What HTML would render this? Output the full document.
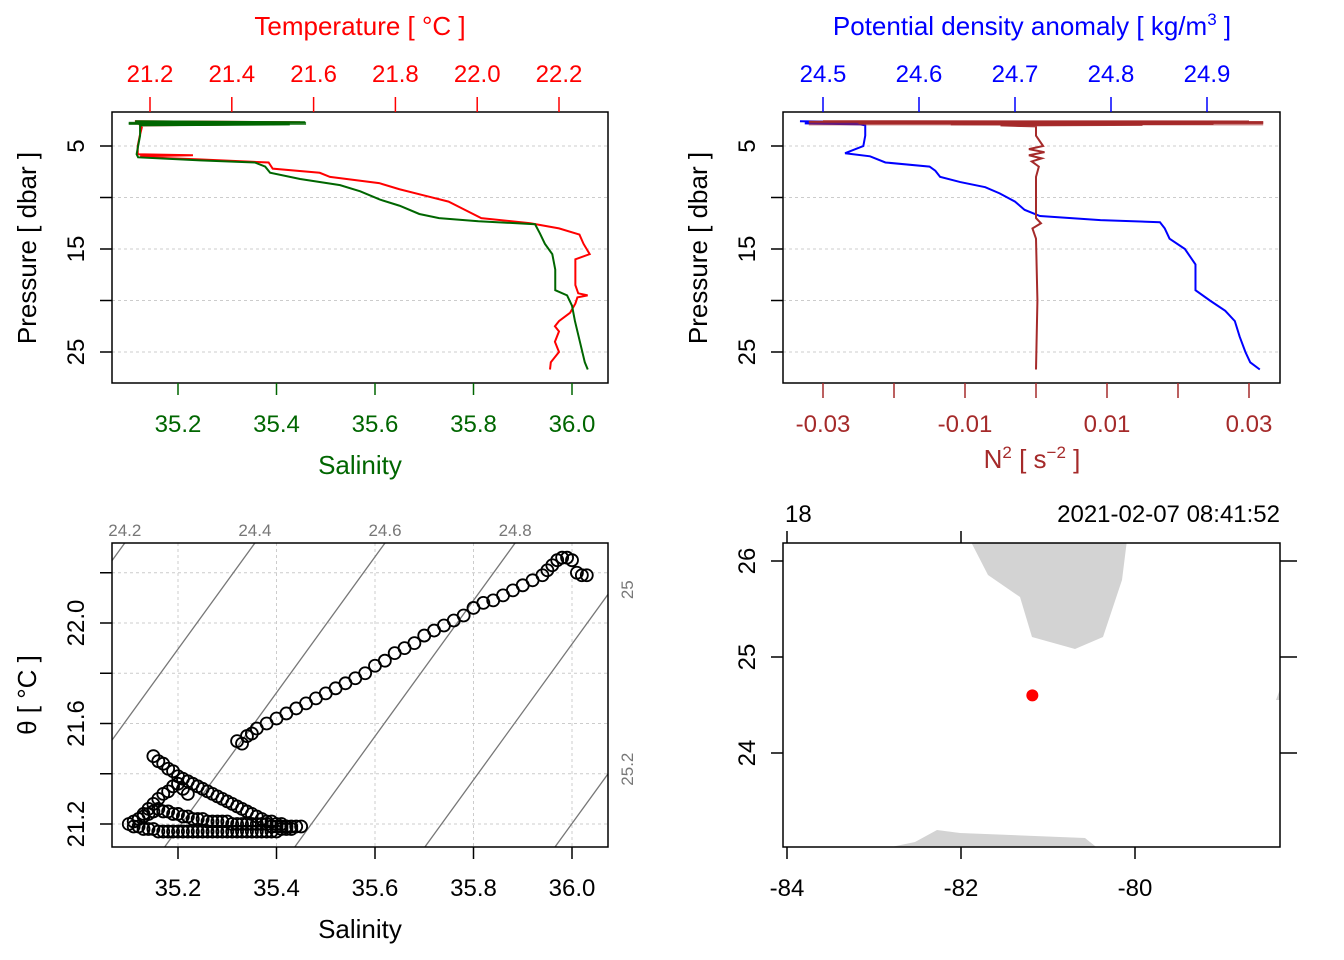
<!DOCTYPE html>
<html><head><meta charset="utf-8"><style>
html,body{margin:0;padding:0;background:#fff;}
svg{display:block;font-family:"Liberation Sans",Arial,sans-serif;}
</style></head><body>
<svg id="c" width="1344" height="960" xmlns="http://www.w3.org/2000/svg"></svg>
<script>
// ---- data ----
const pT=[2.6,2.7,2.8,2.9,3.0,3.2,4,5,5.8,5.9,6.0,6.1,6.3,6.6,7.2,7.6,8.0,8.6,9.2,9.8,10.4,11.2,12.0,12.5,13.0,13.6,14.5,15.5,16.0,17,18.5,19.3,19.5,19.7,20.3,21.2,22.0,22.5,23.0,24.0,25.0,26.0,26.7];
const temperature=[21.163,21.567,21.15,21.44,21.176,21.18,21.175,21.17,21.17,21.305,21.176,21.19,21.32,21.49,21.5,21.615,21.64,21.76,21.81,21.87,21.93,21.97,22.01,22.13,22.2,22.25,22.26,22.275,22.24,22.24,22.24,22.247,22.27,22.245,22.24,22.227,22.2,22.19,22.2,22.19,22.2,22.18,22.178];
const pS=[2.6,2.7,2.8,2.9,3.0,3.2,4,5,5.8,6.1,6.4,6.6,7.0,7.6,8.2,8.8,9.4,10.2,10.8,11.6,12.0,12.3,12.6,13.5,14.5,15.5,17,19,19.5,20.5,22,24,26,26.7];
const salinity=[35.113,35.458,35.1,35.427,35.123,35.123,35.123,35.119,35.116,35.119,35.245,35.356,35.377,35.387,35.448,35.529,35.57,35.61,35.65,35.69,35.73,35.81,35.925,35.935,35.945,35.96,35.966,35.966,35.99,36.0,36.006,36.016,36.026,36.032];
const pSig=[2.6,2.7,2.8,2.9,3.0,4,5,5.7,6.0,6.6,7.0,7.4,8.0,8.5,9.0,9.6,10.4,11.2,11.8,12.2,12.4,13.0,14.0,15.0,16.5,19.0,20.0,21,22,23.5,25,26,26.7];
const sigma=[24.476,24.549,24.481,24.539,24.544,24.544,24.542,24.523,24.549,24.565,24.611,24.617,24.622,24.643,24.669,24.684,24.7,24.71,24.726,24.789,24.851,24.856,24.861,24.877,24.888,24.888,24.903,24.919,24.929,24.934,24.94,24.945,24.955];
const pN2=[2.6,2.62,2.65,2.68,2.7,2.73,2.75,2.78,2.8,2.83,2.85,2.88,2.9,2.95,3.0,3.1,4,5,5.3,5.6,5.9,6.2,6.5,7,8,12,12.5,13,14,20,26.7];
const n2=[-0.03,0.03,-0.032,0.032,-0.02,0.031,0.032,-0.025,-0.024,0.02,0.025,-0.01,-0.012,0.015,-0.005,0,0,0.001,-0.001,0.0012,-0.001,0.0008,-0.0006,0.0004,0,0,0.0007,-0.0005,0,0.0002,0];
const tsS=[35.1,35.11,35.12,35.13,35.14,35.15,35.16,35.17,35.18,35.19,35.2,35.21,35.22,35.23,35.24,35.25,35.26,35.27,35.28,35.29,35.3,35.31,35.32,35.33,35.34,35.35,35.36,35.37,35.38,35.39,35.4,35.41,35.42,35.43,35.44,35.45,
35.11,35.12,35.13,35.14,35.15,35.16,35.17,35.18,35.19,35.2,35.21,35.22,35.23,35.24,35.25,35.26,35.27,35.28,35.29,35.3,35.31,35.32,35.33,35.34,35.35,35.36,35.37,35.38,35.39,35.4,35.41,35.42,35.43,
35.15,35.16,35.17,35.18,35.19,35.2,35.21,35.22,35.23,35.24,35.25,35.26,35.27,35.28,35.29,35.3,35.31,35.32,35.33,35.34,35.35,35.36,35.37,35.38,35.39,35.4,35.41,35.42,
35.12,35.13,35.14,35.15,35.16,35.17,35.18,35.19,35.2,35.21,35.22,
35.32,35.33,35.34,35.35,35.36,35.38,35.4,35.42,35.44,35.46,35.48,35.5,35.52,35.54,35.56,35.58,35.6,35.62,35.64,35.66,35.68,35.7,35.72,35.74,35.76,35.78,35.8,35.82,35.84,35.86,35.88,35.9,35.92,35.94,35.95,35.96,35.97,35.98,35.99,36.0,36.01,36.02,36.03];
const tsT=[21.2,21.19,21.19,21.18,21.18,21.18,21.17,21.17,21.17,21.17,21.17,21.17,21.17,21.17,21.17,21.17,21.17,21.17,21.17,21.17,21.17,21.17,21.17,21.17,21.17,21.17,21.17,21.17,21.17,21.17,21.17,21.18,21.18,21.18,21.19,21.19,
21.21,21.22,21.23,21.24,21.25,21.26,21.25,21.25,21.24,21.24,21.23,21.23,21.22,21.22,21.22,21.21,21.21,21.21,21.21,21.21,21.2,21.2,21.2,21.2,21.2,21.2,21.2,21.2,21.19,21.19,21.19,21.19,21.19,
21.47,21.45,21.44,21.42,21.41,21.39,21.38,21.37,21.36,21.35,21.34,21.33,21.32,21.31,21.3,21.29,21.28,21.27,21.26,21.25,21.24,21.23,21.22,21.21,21.21,21.2,21.2,21.19,
21.22,21.24,21.26,21.28,21.3,21.32,21.33,21.35,21.36,21.34,21.32,
21.53,21.52,21.55,21.56,21.58,21.6,21.62,21.64,21.66,21.68,21.7,21.72,21.74,21.76,21.78,21.8,21.83,21.85,21.88,21.9,21.92,21.95,21.97,21.99,22.01,22.03,22.06,22.08,22.09,22.11,22.13,22.15,22.17,22.19,22.21,22.23,22.25,22.26,22.26,22.25,22.2,22.19,22.19];
const isoLevels=[24.2,24.4,24.6,24.8,25.0,25.2];
const stationLon=-81.18, stationLat=24.6;
// ---- helpers ----
const svg=document.getElementById('c');const NS='http://www.w3.org/2000/svg';
function el(t,a,txt,parent){const e=document.createElementNS(NS,t);for(const k in a)e.setAttribute(k,a[k]);if(txt!==undefined)e.textContent=txt;(parent||svg).appendChild(e);return e;}
function text(x,y,s,fill,size,anchor,rot){const a={x:x,y:y,fill:fill,'font-size':size,'text-anchor':anchor||'middle'};if(rot)a.transform=`rotate(${rot} ${x} ${y})`;return el('text',a,s);}
const sx=S=>178+(S-35.2)*492.5;
const tx=T=>150+(T-21.2)*409;
const py=p=>146+(p-5)*10.3;
const gx=s=>823+(s-24.5)*960;
const nx=v=>1036+v*7100;
const thy=t=>824-(t-21.2)*251.25;
const lonx=l=>787+(l+84)*87;
const laty=l=>561-(l-26)*96;
function poly(xs,ys,stroke,w,name){const pts=xs.map((x,i)=>x+','+ys[i]).join(' ');const e=el('polyline',{points:pts,fill:'none',stroke:stroke,'stroke-width':w||1.5});return e;}
function box(x,y,w,h,name){const e=el('rect',{x:x,y:y,width:w,height:h,fill:'none',stroke:'#000','stroke-width':1.5});}
function hgrid(x1,x2,y){el('line',{x1:x1,x2:x2,y1:y,y2:y,stroke:'#ccc','stroke-dasharray':'3,3'});}
function vgrid(x,y1,y2){el('line',{x1:x,x2:x,y1:y1,y2:y2,stroke:'#ccc','stroke-dasharray':'3,3'});}
function tick(x1,y1,x2,y2,c){el('line',{x1:x1,y1:y1,x2:x2,y2:y2,stroke:c||'#000','stroke-width':1.5});}

// ===== Panel 1: T & S profile =====
[5,10,15,20,25].forEach(p=>hgrid(112,608,py(p)));
poly(temperature.map(tx),pT.map(py),'#f00',2,'temperature-profile');
poly(salinity.map(sx),pS.map(py),'#060',2,'salinity-profile');
el('rect',{x:sx(35.1),y:py(2.65),width:sx(35.46)-sx(35.1),height:py(2.95)-py(2.65),fill:'#060',opacity:0.8});
box(112,112,496,271,'ts-profile-panel');
[35.2,35.4,35.6,35.8,36.0].forEach(v=>{tick(sx(v),383,sx(v),395,'#060');text(sx(v),432,v.toFixed(1),'#060',24);});
[21.2,21.4,21.6,21.8,22.0,22.2].forEach(v=>{tick(tx(v),112,tx(v),97,'#f00');text(tx(v),82,v.toFixed(1),'#f00',24);});
[5,15,25].forEach(p=>{tick(112,py(p),100,py(p));text(84,py(p),String(p),'#000',24,'middle',-90);});
[10,20].forEach(p=>tick(112,py(p),100,py(p)));
text(360,474,'Salinity','#060',26);
text(360,35,'Temperature [ °C ]','#f00',26);
text(36,248,'Pressure [ dbar ]','#000',26,'middle',-90);

// ===== Panel 2: density & N2 =====
[5,10,15,20,25].forEach(p=>hgrid(783,1280,py(p)));
poly(sigma.map(gx),pSig.map(py),'#00f',2,'density-profile');
poly(n2.map(nx),pN2.map(py),'#a52a2a',2,'n2-profile');
el('rect',{x:nx(-0.032),y:py(2.6),width:nx(0.032)-nx(-0.032),height:py(3.0)-py(2.6),fill:'#a52a2a',opacity:0.6});
box(783,112,497,271,'density-profile-panel');
[24.5,24.6,24.7,24.8,24.9].forEach(v=>{tick(gx(v),112,gx(v),97,'#00f');text(gx(v),82,v.toFixed(1),'#00f',24);});
[-0.03,-0.02,-0.01,0,0.01,0.02,0.03].forEach(v=>tick(nx(v),383,nx(v),398,'#a52a2a'));
[-0.03,-0.01,0.01,0.03].forEach(v=>text(nx(v),432,String(v),'#a52a2a',24));
[5,15,25].forEach(p=>{tick(783,py(p),771,py(p));text(755,py(p),String(p),'#000',24,'middle',-90);});
[10,20].forEach(p=>tick(783,py(p),771,py(p)));
const t2=el('text',{x:1032,y:468,fill:'#a52a2a','font-size':26,'text-anchor':'middle'});
t2.innerHTML='N<tspan dy="-10" font-size="17">2</tspan><tspan dy="10"> [ s</tspan><tspan dy="-10" font-size="17">−2</tspan><tspan dy="10"> ]</tspan>';
const t3=el('text',{x:1032,y:35,fill:'#00f','font-size':26,'text-anchor':'middle'});
t3.innerHTML='Potential density anomaly [ kg/m<tspan dy="-10" font-size="17">3</tspan><tspan dy="10"> ]</tspan>';
text(707,248,'Pressure [ dbar ]','#000',26,'middle',-90);

// ===== Panel 3: TS diagram =====
const clip=el('clipPath',{id:'tsclip'});el('rect',{x:112,y:543,width:496,height:304},undefined,clip);
[35.2,35.4,35.6,35.8,36.0].forEach(v=>vgrid(sx(v),543,847));
[21.2,21.4,21.6,21.8,22.0,22.2].forEach(v=>hgrid(112,608,thy(v)));
const g=el('g',{'clip-path':'url(#tsclip)'});
const Smax=36.08,Ttop=21.2+(824-543)/251.25,Tbot=21.2+(824-847)/251.25;
isoLevels.forEach(L=>{
 const Sat=T=>35.356+(L-24.4+0.28*(T-22.318))/0.757;
 const e=el('line',{x1:sx(Sat(Ttop+0.5)),y1:thy(Ttop+0.5),x2:sx(Sat(Tbot-0.5)),y2:thy(Tbot-0.5),stroke:'#777','stroke-width':1.3},undefined,g);
 
 
 const sTop=Sat(Ttop);
 if(sx(sTop)>=100&&sx(sTop)<=608) text(sx(sTop),536,L.toFixed(1),'#777',17);
 else{const Tr=22.318-(L-24.4-0.757*(Smax-35.356))/0.28;
  if(thy(Tr)>543&&thy(Tr)<847) text(633,thy(Tr),L%1===0?String(L):L.toFixed(1),'#777',17,'middle',-90);}
});
tsS.forEach((S,i)=>{const c=el('circle',{cx:sx(S),cy:thy(tsT[i]),r:6,fill:'none',stroke:'#000','stroke-width':1.8},undefined,g);
 
 });
box(112,543,496,304,'ts-diagram-panel');
[35.2,35.4,35.6,35.8,36.0].forEach(v=>{tick(sx(v),847,sx(v),859);text(sx(v),896,v.toFixed(1),'#000',24);});
[21.2,21.4,21.6,21.8,22.0,22.2].forEach(v=>tick(112,thy(v),100,thy(v)));
[21.2,21.6,22.0].forEach(v=>text(84,thy(v),v.toFixed(1),'#000',24,'middle',-90));
text(360,938,'Salinity','#000',26);
text(36,695,'θ [ °C ]','#000',26,'middle',-90);

// ===== Panel 4: map =====
const mclip=el('clipPath',{id:'mclip'});el('rect',{x:783,y:543,width:497,height:304},undefined,mclip);
const mg=el('g',{'clip-path':'url(#mclip)'});
const land1=el('polygon',{points:'970,540 988,575 1020,597 1032,637 1075,649 1103,637 1122,580 1127,540',fill:'#d3d3d3'},undefined,mg);

const land2=el('polygon',{points:'877,850 915,842 937,830 960,833 1085,838 1100,850',fill:'#d3d3d3'},undefined,mg);

el('polygon',{points:'1276,700 1282,684 1282,700',fill:'#d3d3d3'},undefined,mg);
const dot=el('circle',{cx:lonx(stationLon),cy:laty(stationLat),r:6,fill:'#f00'});

box(783,543,497,304,'map-panel');
[-84,-82,-80].forEach(v=>{tick(lonx(v),847,lonx(v),859);text(lonx(v),896,String(v),'#000',24);});
[-84,-82].forEach(v=>tick(lonx(v),543,lonx(v),531));
[24,25,26].forEach(v=>{tick(783,laty(v),771,laty(v));tick(1280,laty(v),1297,laty(v));text(755,laty(v),String(v),'#000',24,'middle',-90);});
text(785,522,'18','#000',24,'start');
text(1280,522,'2021-02-07 08:41:52','#000',24,'end');
</script>
</body></html>
